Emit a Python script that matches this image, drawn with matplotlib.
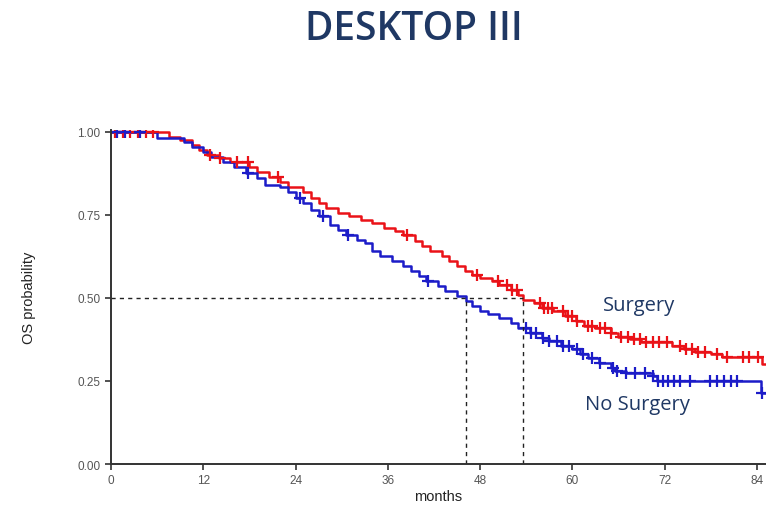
import numpy as np
import matplotlib
matplotlib.use("Agg")
from matplotlib import pyplot as plt

# Surgery arm (red): event times (months) and survival after each step
surg_t = [0, 7.5, 9, 10.5, 11.5, 12.5, 14, 15.5, 18, 19, 20.5, 22, 23, 25, 26, 27, 28,
          29.5, 31, 32.5, 34, 35.5, 37, 38, 39.5, 40.5, 41.5, 43, 44, 45, 46, 47, 48,
          49.5, 50.5, 52, 53, 53.6, 55, 56, 57.5, 59, 60.5, 61.5, 63, 65, 66, 67.5,
          69, 73, 74.5, 76, 78, 79.5, 84.7, 86]
surg_s = [1.0, 0.985, 0.975, 0.96, 0.945, 0.93, 0.92, 0.91, 0.895, 0.88, 0.865, 0.85,
          0.835, 0.82, 0.80, 0.785, 0.77, 0.755, 0.745, 0.735, 0.725, 0.71, 0.70, 0.69,
          0.67, 0.655, 0.64, 0.625, 0.61, 0.595, 0.58, 0.57, 0.56, 0.55, 0.54, 0.525,
          0.51, 0.495, 0.485, 0.47, 0.46, 0.445, 0.43, 0.415, 0.41, 0.395, 0.383, 0.375,
          0.368, 0.355, 0.345, 0.338, 0.33, 0.323, 0.30, 0.30]
surg_cens = [0.5, 1.5, 2.5, 3.5, 4.5, 5.5, 12.9, 14.2, 16.4, 17.8, 21.7, 38.5, 47.6,
             50.3, 51.5, 52.2, 52.8, 55.8, 56.3, 56.9, 57.3, 58.8, 59.4, 60.0, 60.6,
             62.0, 62.6, 63.6, 64.3, 65.0, 66.4, 67.2, 68.0, 68.8, 69.6, 70.5, 71.3,
             72.3, 74.0, 74.8, 75.6, 76.4, 77.2, 78.8, 80.1, 82.2, 83.0, 84.1]

# No surgery arm (blue)
nosurg_t = [0, 6, 9.5, 10.5, 12, 13, 14.5, 16, 17.5, 19, 20, 22, 23, 24, 25, 26, 27,
            28.5, 29.5, 30.5, 32, 33, 34, 35, 36.5, 38, 39, 40, 41, 42.5, 43.5, 45,
            46.2, 47, 48, 49, 50.5, 52, 53, 54.5, 56, 57, 58.5, 60, 61, 62, 63.5, 65,
            65.5, 67, 70.5, 71, 84.5, 86]
nosurg_s = [1.0, 0.982, 0.97, 0.955, 0.94, 0.925, 0.91, 0.895, 0.877, 0.86, 0.84,
            0.835, 0.82, 0.80, 0.785, 0.765, 0.745, 0.72, 0.705, 0.69, 0.675, 0.665,
            0.64, 0.625, 0.61, 0.595, 0.58, 0.565, 0.55, 0.535, 0.52, 0.505, 0.49,
            0.475, 0.46, 0.45, 0.44, 0.425, 0.41, 0.395, 0.38, 0.37, 0.355, 0.345,
            0.33, 0.32, 0.305, 0.29, 0.28, 0.275, 0.265, 0.25, 0.215, 0.215]
nosurg_cens = [0.8, 1.8, 3.8, 17.8, 24.6, 27.6, 30.8, 41.2, 54.0, 54.6, 55.3, 56.2,
               57.0, 58.0, 58.8, 59.6, 60.6, 61.4, 62.5, 63.6, 65.3, 65.8, 67.0, 68.2,
               69.4, 70.5, 71.2, 71.8, 72.5, 73.2, 74.0, 75.3, 77.9, 78.8, 79.8, 80.6,
               81.4, 84.7]

med_nosurg = 46.2
med_surg = 53.6

red = "#ea1218"
blue = "#1c1cc8"
navy = "#1f3864"


def at(t, s, x):
    i = np.searchsorted(t, x, side="right") - 1
    return np.asarray(s)[i]


plt.rcParams["font.family"] = ["Liberation Sans", "DejaVu Sans"]

fig = plt.figure(figsize=(7.66, 5.06), dpi=100)
ax = fig.add_axes([0.145, 0.081, 0.855, 0.660])

ax.step(surg_t, surg_s, where="post", color=red, lw=1.8)
ax.step(nosurg_t, nosurg_s, where="post", color=blue, lw=1.8)
ax.plot(surg_cens, at(surg_t, surg_s, surg_cens), "+", color=red, ms=9, mew=1.6)
ax.plot(nosurg_cens, at(nosurg_t, nosurg_s, nosurg_cens), "+", color=blue, ms=9, mew=1.6)

ax.plot([0, med_surg], [0.5, 0.5], ls=(0, (3, 3)), color="#222222", lw=1)
ax.plot([med_nosurg, med_nosurg], [0, 0.5], ls=(0, (3, 3)), color="#222222", lw=1)
ax.plot([med_surg, med_surg], [0, 0.5], ls=(0, (3, 3)), color="#222222", lw=1)

ax.set_xlim(0, 85.2)
ax.set_ylim(0, 1.005)
ax.set_xticks([0, 12, 24, 36, 48, 60, 72, 84])
ax.set_yticks([0, 0.25, 0.5, 0.75, 1.0])
ax.set_yticklabels(["0.00", "0.25", "0.50", "0.75", "1.00"])
ax.tick_params(colors="#333333", labelcolor="#555555", labelsize=8.5, length=4, width=1.2)
for side in ["top", "right"]:
    ax.spines[side].set_visible(False)
for side in ["left", "bottom"]:
    ax.spines[side].set_color("#333333")
    ax.spines[side].set_linewidth(1.4)

ax.set_xlabel("months", fontsize=10.5, color="#222222", labelpad=2)
ax.set_ylabel("OS probability", fontsize=10.5, color="#222222", labelpad=30)

ax.text(68.7, 0.48, "Surgery", color=navy, fontsize=14.5, family="Open Sans",
        ha="center", va="center")
ax.text(68.5, 0.18, "No Surgery", color=navy, fontsize=14.5, family="Open Sans",
        ha="center", va="center")

fig.text(0.54, 0.94, "DESKTOP III", color=navy, fontsize=28, family="Open Sans",
         weight="semibold", ha="center", va="center")

fig.savefig("out.png", dpi=100)
